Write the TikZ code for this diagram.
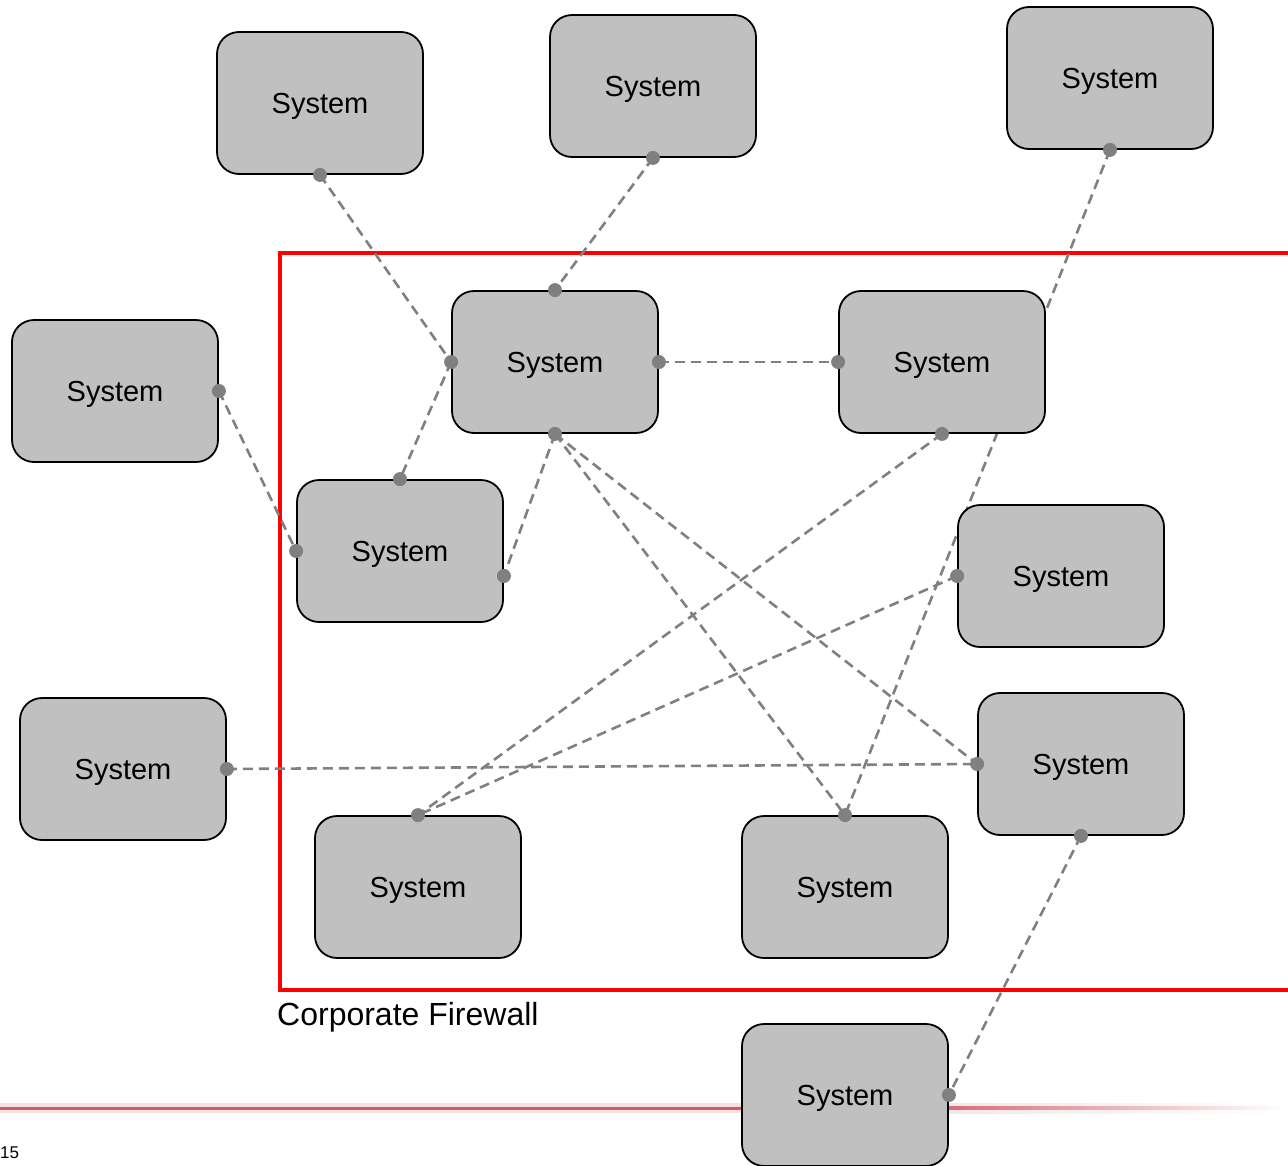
\documentclass[tikz,border=0pt]{standalone}
\usepackage{fontspec}
\setmainfont{Liberation Sans}
\usetikzlibrary{calc}
\definecolor{boxgray}{RGB}{192,192,192}
\definecolor{linkgray}{RGB}{128,128,128}
\definecolor{fwred}{RGB}{255,0,0}
\definecolor{barred}{RGB}{205,90,100}
\tikzset{
  sysbox/.style={draw=black, line width=1.8pt, fill=boxgray, rounded corners=22pt,
    minimum width=206pt, minimum height=142pt, inner sep=0pt},
  systext/.style={inner sep=0pt, font=\fontsize{29}{34}\selectfont},
  link/.style={draw=linkgray, line width=2.6pt, dash pattern=on 10pt off 6pt},
  port/.style={circle, fill=linkgray, inner sep=0pt, minimum size=14pt}
}
\begin{document}
\begin{tikzpicture}[x=1pt,y=-1pt]
\useasboundingbox (0,0) rectangle (1288,1165);
\fill[white] (0,0) rectangle (1288,1165);
% decorative bottom bar
\fill[barred!18] (0,1103) rectangle (900,1113);
\shade[left color=barred!18, right color=white] (900,1103) rectangle (1288,1113);
\fill[barred] (0,1106.5) rectangle (900,1109.5);
\shade[left color=barred, right color=white] (900,1106.5) rectangle (1288,1109.5);
\node[anchor=north west, inner sep=0pt, font=\fontsize{17}{20}\selectfont] (pg) at (0,1147) {15};
% firewall
\draw[fwred, line width=4pt] (1300,253) -- (280,253) -- (280,990) -- (1300,990);
\node[anchor=base west, inner sep=0pt, font=\fontsize{32}{37}\selectfont] (fw) at (277,1025) {Corporate Firewall};
% box frames (invisible) for connector anchors
\path
  (320,103) node[sysbox, draw=none, fill=none] (A) {}
  (653,86) node[sysbox, draw=none, fill=none] (B) {}
  (1110,78) node[sysbox, draw=none, fill=none] (C) {}
  (115,391) node[sysbox, draw=none, fill=none] (D) {}
  (555,362) node[sysbox, draw=none, fill=none] (E) {}
  (942,362) node[sysbox, draw=none, fill=none] (F) {}
  (400,551) node[sysbox, draw=none, fill=none] (G) {}
  (1061,576) node[sysbox, draw=none, fill=none] (H) {}
  (123,769) node[sysbox, draw=none, fill=none] (I) {}
  (1081,764) node[sysbox, draw=none, fill=none] (J) {}
  (418,887) node[sysbox, draw=none, fill=none] (K) {}
  (845,887) node[sysbox, draw=none, fill=none] (L) {}
  (845,1095) node[sysbox, draw=none, fill=none] (M) {};
\coordinate (Gr) at ($(G.east)+(0,25)$);
% connectors
\draw[link] (A.south) -- (E.west);
\draw[link] (B.south) -- (E.north);
\draw[link] (C.south) -- (L.north);
\draw[link] (D.east) -- (G.west);
\draw[link] (E.west) -- (G.north);
\draw[link] (E.east) -- (F.west);
\draw[link] (E.south) -- (Gr);
\draw[link] (E.south) -- (L.north);
\draw[link] (E.south) -- (J.west);
\draw[link] (F.south) -- (K.north);
\draw[link] (H.west) -- (K.north);
\draw[link] (I.east) -- (J.west);
\draw[link] (J.south) -- (M.east);
% boxes
\foreach \n in {A,B,C,D,E,F,G,H,I,J,K,L,M}{
  \node[sysbox] (\n box) at (\n) {};
  \node[systext] (\n txt) at ([yshift=-3pt]\n) {System};
}
% ports
\foreach \p in {A.south,B.south,C.south,D.east,E.west,E.north,E.east,E.south,F.west,F.south,G.west,G.north,Gr,H.west,I.east,J.west,J.south,K.north,L.north,M.east}{
  \node[port] at (\p) {};
}
\end{tikzpicture}
\end{document}
